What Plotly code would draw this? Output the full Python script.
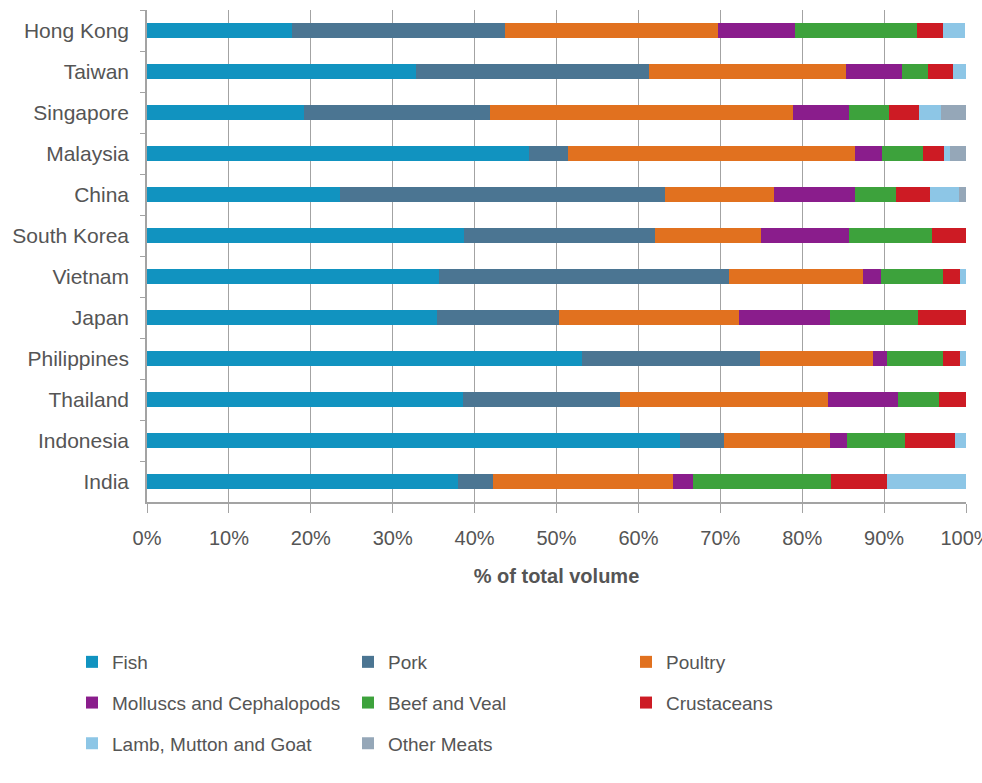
import plotly.graph_objects as go

# Countries, top to bottom
countries = ["Hong Kong", "Taiwan", "Singapore", "Malaysia", "China", "South Korea",
             "Vietnam", "Japan", "Philippines", "Thailand", "Indonesia", "India"]

# Share of total volume (%) by protein type, same order as countries
fish        = [17.7, 32.9, 19.2, 46.7, 23.6, 38.7, 35.6, 35.4, 53.1, 38.6, 65.1, 38.0]
pork        = [26.0, 28.4, 22.7,  4.7, 39.6, 23.3, 35.5, 14.9, 21.8, 19.2,  5.3,  4.2]
poultry     = [26.0, 24.0, 37.0, 35.0, 13.4, 13.0, 16.3, 22.0, 13.8, 25.4, 13.0, 22.0]
molluscs    = [ 9.4,  6.9,  6.8,  3.4,  9.8, 10.7,  2.2, 11.1,  1.7,  8.5,  2.1,  2.5]
beef        = [14.9,  3.1,  4.9,  4.9,  5.1, 10.1,  7.6, 10.7,  6.8,  5.0,  7.0, 16.8]
crustaceans = [ 3.2,  3.1,  3.7,  2.6,  4.1,  4.2,  2.1,  5.9,  2.1,  3.3,  6.2,  6.9]
lamb        = [ 2.7,  1.6,  2.6,  0.8,  3.5,  0.0,  0.7,  0.0,  0.7,  0.0,  1.3,  9.6]
other       = [ 0.0,  0.0,  3.1,  1.9,  0.9,  0.0,  0.0,  0.0,  0.0,  0.0,  0.0,  0.0]

series_names = ["Fish", "Pork", "Poultry", "Molluscs and Cephalopods", "Beef and Veal",
                "Crustaceans", "Lamb, Mutton and Goat", "Other Meats"]
series_values = [fish, pork, poultry, molluscs, beef, crustaceans, lamb, other]
series_colors = ["#1193C0", "#4B7592", "#E1711F", "#8A1D8C", "#3DA23C",
                 "#CD1B24", "#8DC6E6", "#95A7B8"]
# legend column each series is listed in
series_legend = ["legend", "legend2", "legend3", "legend", "legend2",
                 "legend3", "legend", "legend2"]

x_ticks = [0, 10, 20, 30, 40, 50, 60, 70, 80, 90, 100]
x_tick_labels = [f"{v}%" for v in x_ticks]

FONT = "Liberation Sans, Arial, sans-serif"
TEXT = "#555555"
GRID = "#A3A3A3"

fig = go.Figure()
for name, vals, col, leg in zip(series_names, series_values, series_colors, series_legend):
    fig.add_trace(go.Bar(
        y=countries, x=vals, name=name, orientation="h",
        marker=dict(color=col, line=dict(width=0)),
        legend=leg, legendgroup=name,
    ))

W, H = 982, 783
L, R, T, B = 147, 16, 10, 281
pw, ph = W - L - R, H - T - B


def px_x(x):
    return (x - L) / pw


def px_y(y):
    return (H - B - y) / ph


legend_common = dict(
    font=dict(family=FONT, size=19, color=TEXT),
    bgcolor="rgba(0,0,0,0)", borderwidth=0,
    xanchor="left", yanchor="top", orientation="v",
    tracegroupgap=13, itemwidth=30,
)

fig.update_layout(
    template="none",
    width=W, height=H,
    margin=dict(l=L, r=R, t=T, b=B, pad=0),
    paper_bgcolor="white", plot_bgcolor="white",
    barmode="stack", bargap=0.64,
    font=dict(family=FONT, size=20, color=TEXT),
    legend=dict(x=px_x(72), y=px_y(643), **legend_common),
    legend2=dict(x=px_x(348), y=px_y(643), **legend_common),
    legend3=dict(x=px_x(626), y=px_y(643), **legend_common),
    xaxis=dict(
        range=[0, 100], tickvals=x_ticks, ticktext=x_tick_labels,
        showgrid=True, gridcolor=GRID, gridwidth=1.3,
        showline=True, linecolor=GRID, linewidth=1.5,
        ticks="outside", ticklen=9, tickcolor=GRID, tickwidth=1.3,
        tickfont=dict(family=FONT, size=20, color=TEXT),
        ticklabelstandoff=8, ticklabeloverflow="allow",
        zeroline=False, automargin=False,
        title=dict(text="<b>% of total volume</b>", standoff=21,
                   font=dict(family=FONT, size=20, color=TEXT)),
    ),
    yaxis=dict(
        categoryorder="array", categoryarray=countries, autorange="reversed",
        showgrid=False, showline=True, linecolor=GRID, linewidth=1.5,
        ticks="outside", ticklen=5, tickcolor=GRID, tickwidth=1.3,
        tickson="boundaries", ticklabelstandoff=12,
        tickfont=dict(family=FONT, size=21, color=TEXT),
        zeroline=False, automargin=False,
    ),
)

fig.write_html("out.html")
